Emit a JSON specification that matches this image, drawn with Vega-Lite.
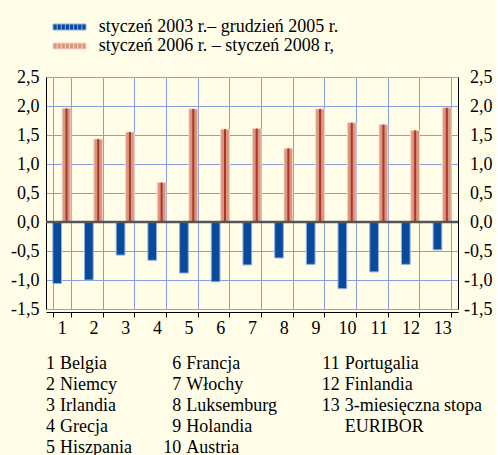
{
  "$schema": "https://vega.github.io/schema/vega-lite/v6.json",
  "background": "#fffde8",
  "padding": {"left": 10, "top": 18, "right": 4, "bottom": 0},
  "bounds": "flush",
  "spacing": 55,
  "config": {
    "view": {"stroke": null},
    "font": "Liberation Serif",
    "axis": {"labelFont": "Liberation Serif", "labelColor": "#000000", "labelFontSize": 18}
  },
  "datasets": {
    "bars": [
      {"nr": 1, "okres": "styczeń 2003 r.– grudzień 2005 r.", "wartosc": -1.06},
      {"nr": 2, "okres": "styczeń 2003 r.– grudzień 2005 r.", "wartosc": -1.0},
      {"nr": 3, "okres": "styczeń 2003 r.– grudzień 2005 r.", "wartosc": -0.57},
      {"nr": 4, "okres": "styczeń 2003 r.– grudzień 2005 r.", "wartosc": -0.66},
      {"nr": 5, "okres": "styczeń 2003 r.– grudzień 2005 r.", "wartosc": -0.88},
      {"nr": 6, "okres": "styczeń 2003 r.– grudzień 2005 r.", "wartosc": -1.03},
      {"nr": 7, "okres": "styczeń 2003 r.– grudzień 2005 r.", "wartosc": -0.74},
      {"nr": 8, "okres": "styczeń 2003 r.– grudzień 2005 r.", "wartosc": -0.62},
      {"nr": 9, "okres": "styczeń 2003 r.– grudzień 2005 r.", "wartosc": -0.73},
      {"nr": 10, "okres": "styczeń 2003 r.– grudzień 2005 r.", "wartosc": -1.15},
      {"nr": 11, "okres": "styczeń 2003 r.– grudzień 2005 r.", "wartosc": -0.86},
      {"nr": 12, "okres": "styczeń 2003 r.– grudzień 2005 r.", "wartosc": -0.73},
      {"nr": 13, "okres": "styczeń 2003 r.– grudzień 2005 r.", "wartosc": -0.48},
      {"nr": 1, "okres": "styczeń 2006 r. – styczeń 2008 r,", "wartosc": 1.96},
      {"nr": 2, "okres": "styczeń 2006 r. – styczeń 2008 r,", "wartosc": 1.43},
      {"nr": 3, "okres": "styczeń 2006 r. – styczeń 2008 r,", "wartosc": 1.55},
      {"nr": 4, "okres": "styczeń 2006 r. – styczeń 2008 r,", "wartosc": 0.68},
      {"nr": 5, "okres": "styczeń 2006 r. – styczeń 2008 r,", "wartosc": 1.95},
      {"nr": 6, "okres": "styczeń 2006 r. – styczeń 2008 r,", "wartosc": 1.6},
      {"nr": 7, "okres": "styczeń 2006 r. – styczeń 2008 r,", "wartosc": 1.61},
      {"nr": 8, "okres": "styczeń 2006 r. – styczeń 2008 r,", "wartosc": 1.27},
      {"nr": 9, "okres": "styczeń 2006 r. – styczeń 2008 r,", "wartosc": 1.95},
      {"nr": 10, "okres": "styczeń 2006 r. – styczeń 2008 r,", "wartosc": 1.71},
      {"nr": 11, "okres": "styczeń 2006 r. – styczeń 2008 r,", "wartosc": 1.68},
      {"nr": 12, "okres": "styczeń 2006 r. – styczeń 2008 r,", "wartosc": 1.58},
      {"nr": 13, "okres": "styczeń 2006 r. – styczeń 2008 r,", "wartosc": 1.97}
    ],
    "foot": [
      {"kol": 1, "wiersz": 1, "nr": "1", "nazwa": "Belgia"},
      {"kol": 1, "wiersz": 2, "nr": "2", "nazwa": "Niemcy"},
      {"kol": 1, "wiersz": 3, "nr": "3", "nazwa": "Irlandia"},
      {"kol": 1, "wiersz": 4, "nr": "4", "nazwa": "Grecja"},
      {"kol": 1, "wiersz": 5, "nr": "5", "nazwa": "Hiszpania"},
      {"kol": 2, "wiersz": 1, "nr": "6", "nazwa": "Francja"},
      {"kol": 2, "wiersz": 2, "nr": "7", "nazwa": "Włochy"},
      {"kol": 2, "wiersz": 3, "nr": "8", "nazwa": "Luksemburg"},
      {"kol": 2, "wiersz": 4, "nr": "9", "nazwa": "Holandia"},
      {"kol": 2, "wiersz": 5, "nr": "10", "nazwa": "Austria"},
      {"kol": 3, "wiersz": 1, "nr": "11", "nazwa": "Portugalia"},
      {"kol": 3, "wiersz": 2, "nr": "12", "nazwa": "Finlandia"},
      {"kol": 3, "wiersz": 3, "nr": "13", "nazwa": "3-miesięczna stopa"},
      {"kol": 3, "wiersz": 4, "nr": "", "nazwa": "EURIBOR"}
    ]
  },
  "vconcat": [
    {
      "width": 412,
      "height": 232,
      "layer": [
        {
          "data": {"name": "bars"},
          "mark": {"type": "bar", "strokeWidth": 1},
          "encoding": {
            "x": {
              "field": "nr", "type": "ordinal",
              "scale": {"paddingInner": 0.43, "paddingOuter": 0.215},
              "axis": {"orient": "bottom", "title": null, "tickBand": "extent", "grid": true, "gridColor": "#8a9ed9", "gridOpacity": 1, "gridWidth": 1, "domainColor": "#000000", "tickColor": "#000000", "tickSize": 5, "labelAngle": 0, "labelPadding": 2, "offset": 3}
            },
            "xOffset": {"field": "okres", "type": "nominal", "scale": {"domain": ["styczeń 2003 r.– grudzień 2005 r.", "styczeń 2006 r. – styczeń 2008 r,"], "paddingInner": 0.07, "paddingOuter": 0}},
            "y": {
              "field": "wartosc", "type": "quantitative",
              "scale": {"domain": [-1.5, 2.5], "nice": false, "zero": false},
              "axis": {"orient": "left", "title": null, "values": [-1.5, -1, -0.5, 0, 0.5, 1, 1.5, 2, 2.5], "labelExpr": "replace(replace(format(datum.value, '.1f'), '.', ','), '−', '-')", "grid": true, "gridColor": "#8a9ed9", "gridOpacity": 1, "gridWidth": 1, "ticks": false, "tickSize": 0, "domainColor": "#000000", "labelPadding": 7}
            },
            "color": {
              "field": "okres", "type": "nominal",
              "scale": {"domain": ["styczeń 2003 r.– grudzień 2005 r.", "styczeń 2006 r. – styczeń 2008 r,"], "range": ["#0a4a9b", "#d8977f"]},
              "legend": {
                "orient": "top", "direction": "vertical", "title": null,
                "labelFontSize": 18, "labelFont": "Liberation Serif", "labelColor": "#000000", "labelLimit": 0,
                "symbolType": "M-0.4,-0.6H6.2V0.6H-0.4Z M0.425,-0.6V0.6 M1.25,-0.6V0.6 M2.075,-0.6V0.6 M2.9,-0.6V0.6 M3.725,-0.6V0.6 M4.55,-0.6V0.6 M5.375,-0.6V0.6",
                "symbolSize": 100, "symbolStrokeWidth": 1, "labelOffset": 34.7, "rowPadding": 1, "offset": 13, "padding": 0,
                "encode": {
                  "symbols": {
                    "update": {
                      "stroke": {"signal": "indexof(datum.value, '2003') >= 0 ? '#0a4a9b' : '#b23428'"},
                      "strokeWidth": {"signal": "indexof(datum.value, '2003') >= 0 ? 0 : 1"},
                      "opacity": {"value": 1},
                      "fillOpacity": {"value": 1}
                    }
                  }
                }
              }
            },
            "stroke": {
              "field": "okres", "type": "nominal",
              "scale": {"domain": ["styczeń 2003 r.– grudzień 2005 r.", "styczeń 2006 r. – styczeń 2008 r,"], "range": ["#8fb0e2", "#f6d4ca"]},
              "legend": null
            },
            "opacity": {"value": 1}
          }
        },
        {
          "data": {"name": "bars"},
          "transform": [{"filter": {"field": "okres", "equal": "styczeń 2006 r. – styczeń 2008 r,"}}],
          "mark": {"type": "bar", "width": 2, "color": "#b23428", "opacity": 1},
          "encoding": {
            "x": {"field": "nr", "type": "ordinal"},
            "xOffset": {"field": "okres", "type": "nominal"},
            "y": {"field": "wartosc", "type": "quantitative", "axis": null}
          }
        },
        {
          "data": {"values": [{"z": 0}]},
          "mark": {"type": "rule", "color": "#555555", "strokeWidth": 2.5},
          "encoding": {
            "y": {
              "field": "z", "type": "quantitative",
              "axis": {"orient": "right", "title": null, "values": [-1.5, -1, -0.5, 0, 0.5, 1, 1.5, 2, 2.5], "labelExpr": "replace(replace(format(datum.value, '.1f'), '.', ','), '−', '-')", "grid": false, "ticks": false, "tickSize": 0, "domainColor": "#000000", "labelAlign": "right", "labelPadding": 34}
            }
          }
        }
      ]
    },
    {
      "width": 412,
      "height": 84,
      "data": {"name": "foot"},
      "encoding": {
        "x": {"field": "kol", "type": "ordinal", "bandPosition": 0, "scale": {"type": "band", "paddingInner": 0, "paddingOuter": 0}, "axis": null},
        "y": {"field": "wiersz", "type": "ordinal", "scale": {"type": "point", "padding": 0}, "axis": null}
      },
      "layer": [
        {"transform": [{"filter": {"field": "kol", "equal": 1}}], "mark": {"type": "text", "align": "left", "baseline": "middle", "dx": 14, "fontSize": 18, "font": "Liberation Serif", "color": "#000000"}, "encoding": {"text": {"field": "nazwa"}}},
        {"transform": [{"filter": {"field": "kol", "equal": 1}}], "mark": {"type": "text", "align": "right", "baseline": "middle", "dx": 9, "fontSize": 18, "font": "Liberation Serif", "color": "#000000"}, "encoding": {"text": {"field": "nr"}}},
        {"transform": [{"filter": {"field": "kol", "equal": 2}}], "mark": {"type": "text", "align": "left", "baseline": "middle", "dx": 3, "fontSize": 18, "font": "Liberation Serif", "color": "#000000"}, "encoding": {"text": {"field": "nazwa"}}},
        {"transform": [{"filter": {"field": "kol", "equal": 2}}], "mark": {"type": "text", "align": "right", "baseline": "middle", "dx": -2, "fontSize": 18, "font": "Liberation Serif", "color": "#000000"}, "encoding": {"text": {"field": "nr"}}},
        {"transform": [{"filter": {"field": "kol", "equal": 3}}], "mark": {"type": "text", "align": "left", "baseline": "middle", "dx": 24, "fontSize": 18, "font": "Liberation Serif", "color": "#000000"}, "encoding": {"text": {"field": "nazwa"}}},
        {"transform": [{"filter": {"field": "kol", "equal": 3}}], "mark": {"type": "text", "align": "right", "baseline": "middle", "dx": 19, "fontSize": 18, "font": "Liberation Serif", "color": "#000000"}, "encoding": {"text": {"field": "nr"}}}
      ]
    }
  ]
}
